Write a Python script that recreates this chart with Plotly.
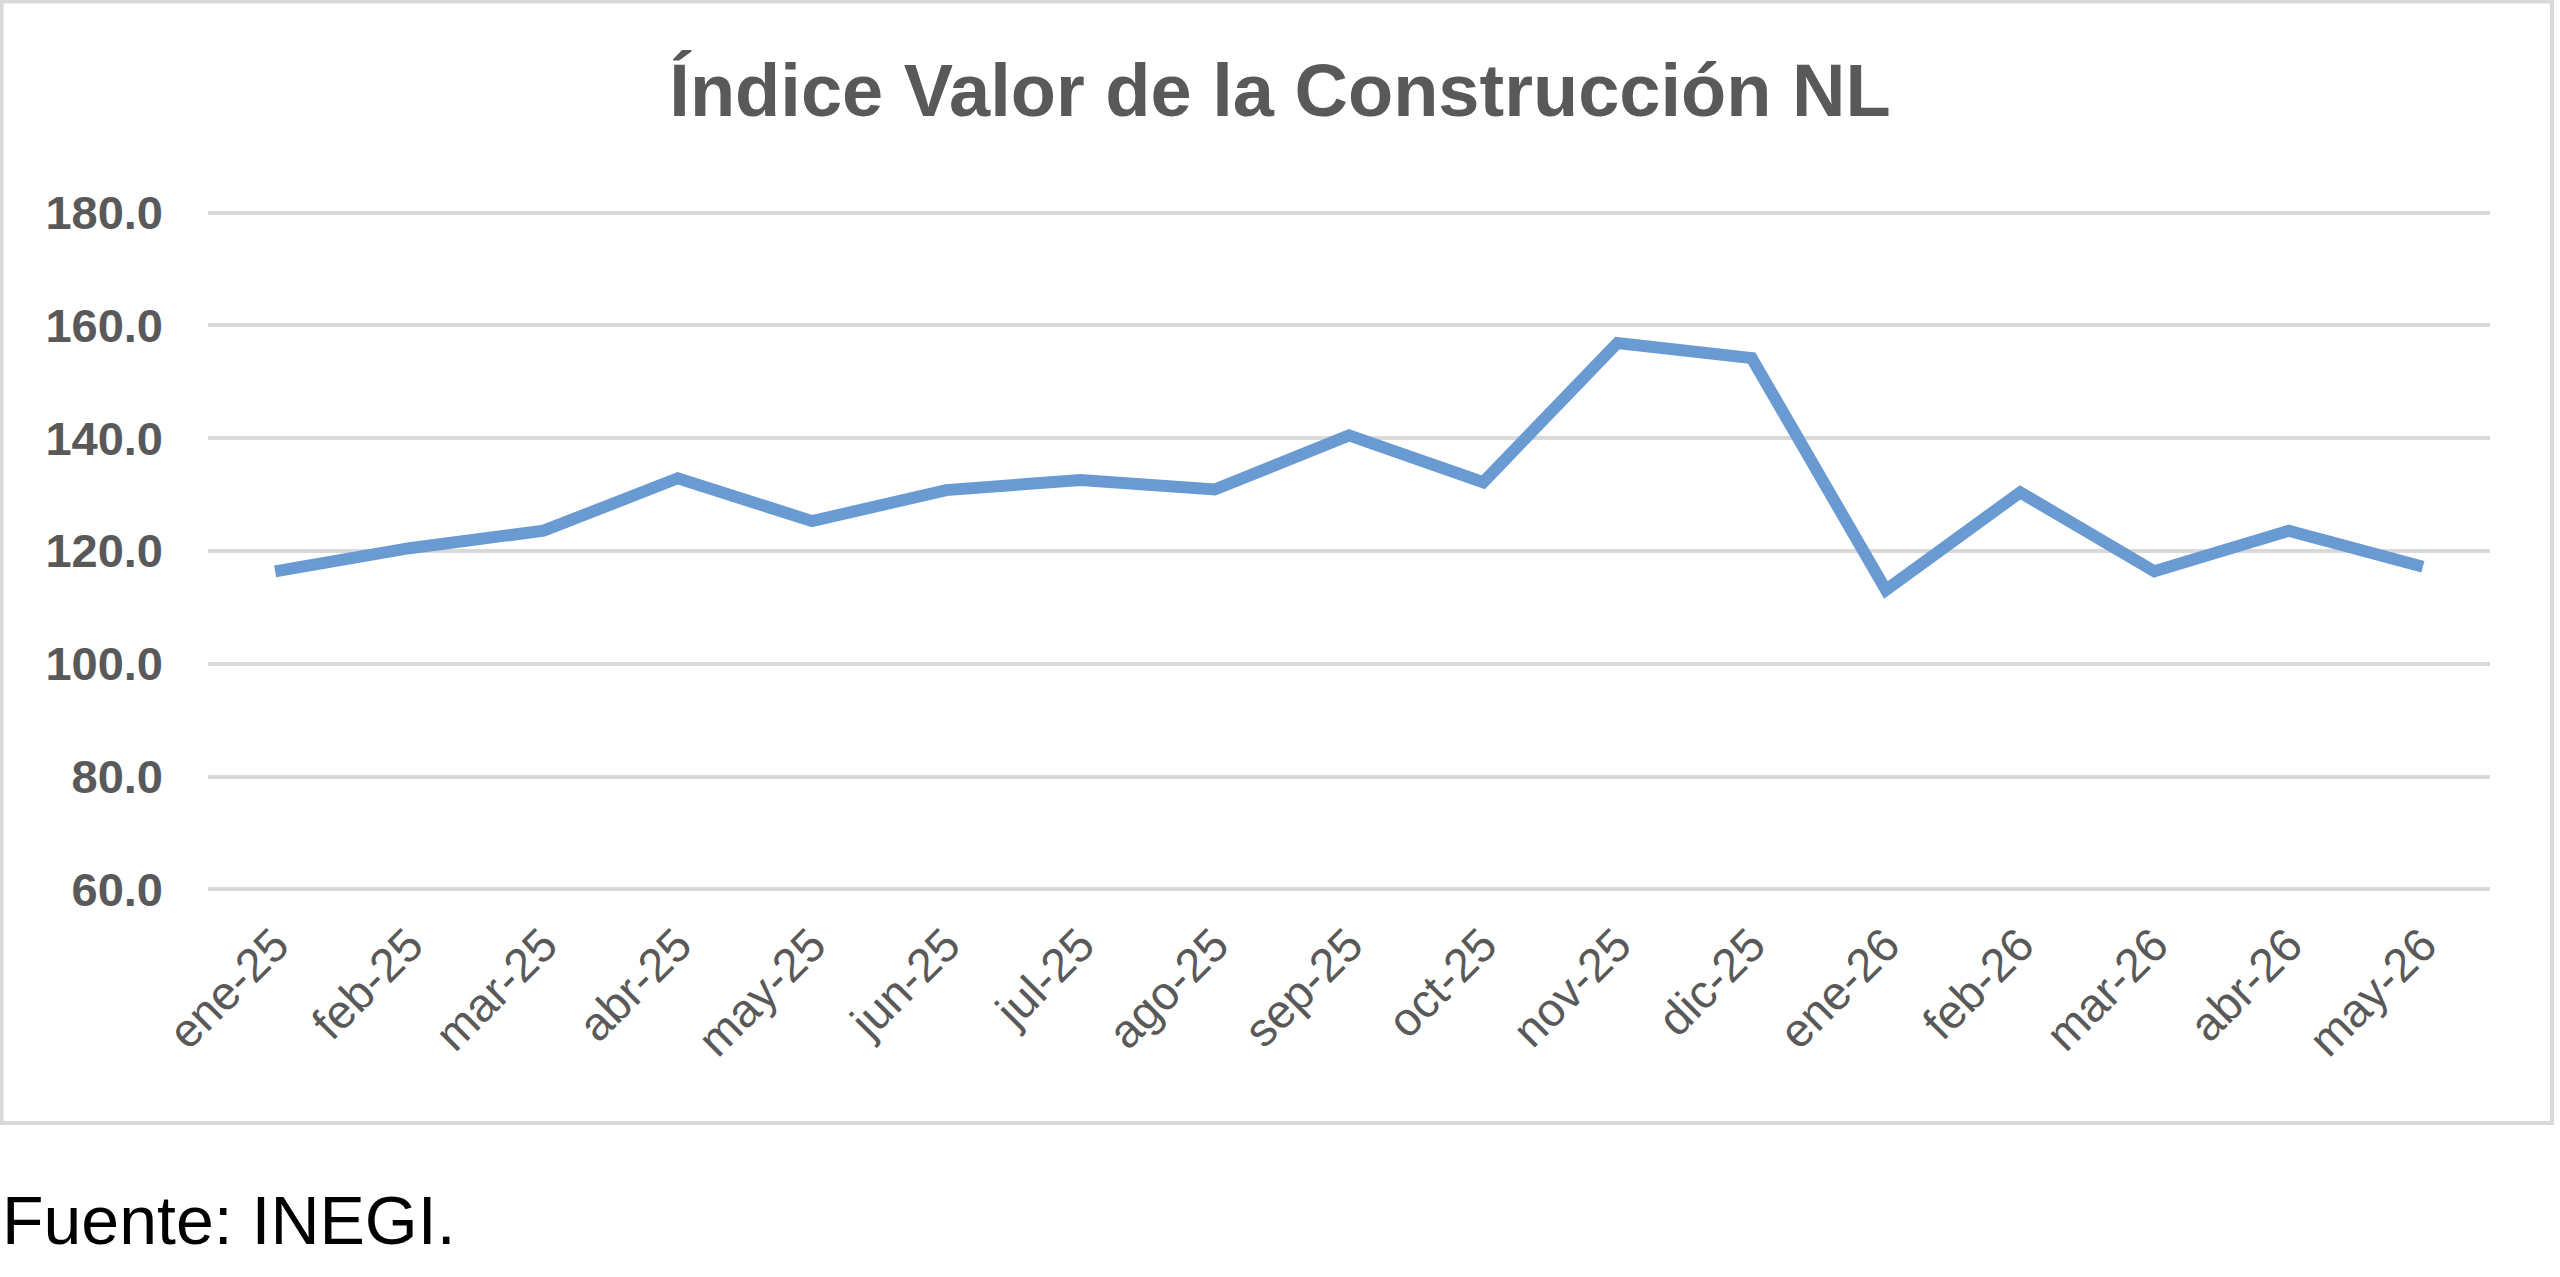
import plotly.graph_objects as go

meses = ["ene-25", "feb-25", "mar-25", "abr-25", "may-25", "jun-25", "jul-25", "ago-25",
         "sep-25", "oct-25", "nov-25", "dic-25", "ene-26", "feb-26", "mar-26", "abr-26", "may-26"]
indice = [116.4, 120.5, 123.6, 132.9, 125.3, 130.8, 132.6, 130.9,
          140.5, 132.2, 156.9, 154.2, 113.1, 130.4, 116.4, 123.6, 117.2]
ticks_y = [60, 80, 100, 120, 140, 160, 180]

W, H = 2560, 1277
L, R, T, B = 208, 70, 211, 386   # plot area 208..2490 x 211..891
pw, ph = W - L - R, H - T - B

def px(x):
    return (x - L) / pw

def py(y):
    return (H - B - y) / ph

gris = "#595959"
fuente = "Liberation Sans, Arial, sans-serif"

fig = go.Figure()
fig.add_trace(go.Scatter(x=meses, y=indice, mode="lines",
                         line=dict(color="#699BD2", width=12), showlegend=False,
                         hoverinfo="skip"))

fig.update_layout(
    width=W, height=H,
    margin=dict(l=L, r=R, t=T, b=B),
    paper_bgcolor="white", plot_bgcolor="white",
    title=dict(text="<b>Índice Valor de la Construcción NL</b>",
               x=0.5, xref="container", xanchor="center",
               y=1 - 90 / H, yref="container", yanchor="middle",
               font=dict(family=fuente, size=74, color=gris)),
    xaxis=dict(type="category", range=[-0.5, len(meses) - 0.5],
               showgrid=False, zeroline=False, showline=False, ticks="",
               tickangle=-45, ticklabelstandoff=16,
               tickfont=dict(family=fuente, size=47, color=gris)),
    # rango un poco más amplio para que se dibujen las líneas de 60 y 180
    yaxis=dict(range=[59.7, 180.3], tickvals=ticks_y, tickformat=".1f",
               showgrid=True, gridcolor="#D9D9D9", gridwidth=4,
               zeroline=False, showline=False, ticks="", ticklabelstandoff=44,
               tickfont=dict(family=fuente, size=47, color=gris, weight="bold")),
    shapes=[dict(type="rect", xref="paper", yref="paper",
                 x0=px(1.5), x1=px(2552), y0=py(1123), y1=py(1.5),
                 line=dict(color="#D9D9D9", width=4), layer="below")],
    annotations=[dict(text="Fuente: INEGI.", xref="paper", yref="paper",
                      x=px(0), y=py(1220), xanchor="left", yanchor="middle",
                      showarrow=False, font=dict(family=fuente, size=68, color="black"))],
)

fig.write_html("out.html", config={"displayModeBar": False},
               post_script="document.body.style.margin='0';")
